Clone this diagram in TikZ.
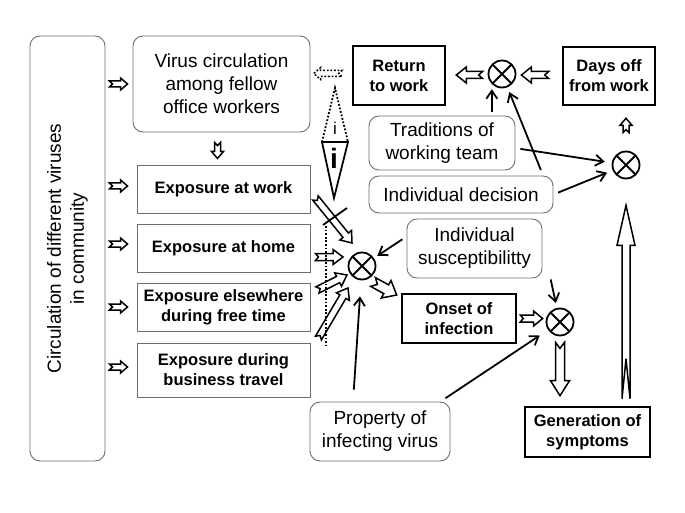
\documentclass[tikz,border=0pt]{standalone}
\usepackage{fontspec}
\setmainfont{Liberation Sans}
\usepackage{tikz}
\usetikzlibrary{calc,positioning,arrows.meta}
\usepackage{xcolor}
\definecolor{mgray}{HTML}{6E6E6E}
\newcommand{\reg}{\fontsize{19}{23}\selectfont}
\newcommand{\bld}{\fontsize{16.5}{20}\selectfont\bfseries}
\tikzstyle{rbox}=[draw=mgray, rounded corners=10pt, line width=0.9pt, inner sep=2pt, align=center, font=\reg]
\tikzstyle{sbox}=[draw=mgray, line width=0.9pt, inner sep=2pt, align=center, font=\bld]
\tikzstyle{tbox}=[draw=black, line width=2.6pt, inner sep=2pt, align=center, font=\bld]
\tikzstyle{ot}=[circle, draw=black, line width=1.8pt, minimum size=27pt, inner sep=0pt,
  path picture={\draw[line width=1.8pt] (path picture bounding box.north west) -- (path picture bounding box.south east)
    (path picture bounding box.north east) -- (path picture bounding box.south west);}]
\tikzstyle{l1}=[line width=1.8pt, >={Straight Barb[length=8pt, width=11pt]}]
\tikzstyle{ba}=[draw=black, line width=1.5pt, fill=white, line join=miter]
\tikzstyle{dots}=[dash pattern=on 1.8pt off 1.8pt]
\tikzset{bsh/.store in=\bsh, bhd/.store in=\bhd, bln/.store in=\bln, bnt/.store in=\bnt,
  bsh=3pt, bhd=6pt, bln=7pt, bnt=3pt}
% block arrow with notched tail: [sizes]{tail}{tip}
\newcommand{\blockarrow}[3][]{%
  \begin{scope}[#1]
    \coordinate (bt) at #2;
    \coordinate (bp) at #3;
    \coordinate (bn) at ($(bp)!\bln!(bt)$);
    \draw[ba] ($(bt)!\bsh!90:(bp)$) -- ($(bt)!\bnt!(bp)$) -- ($(bt)!\bsh!-90:(bp)$)
      -- ($(bn)!\bsh!-90:(bp)$) -- ($(bn)!\bhd!-90:(bp)$) -- (bp)
      -- ($(bn)!\bhd!90:(bp)$) -- ($(bn)!\bsh!90:(bp)$) -- cycle;
  \end{scope}}

\begin{document}
\begin{tikzpicture}[x=1pt,y=-1pt]
    \useasboundingbox (0,0) rectangle (685,513);
    \node[rbox, rotate=90, minimum width=425pt, minimum height=75pt] (comm) at (67.5,248.5) {Circulation of different viruses\\in community};
    \node[rbox, minimum width=177pt, minimum height=96pt] (virus) at (221.5,84) {Virus circulation\\among fellow\\office workers};
    \node[sbox, minimum width=173pt, minimum height=48pt] (work) at (223.5,189) {Exposure at work};
    \node[sbox, minimum width=173pt, minimum height=48pt] (home) at (223.5,248) {Exposure at home};
    \node[sbox, minimum width=173pt, minimum height=48pt] (free) at (223.5,307) {Exposure elsewhere\\during free time};
    \node[sbox, minimum width=173pt, minimum height=54pt] (travel) at (223.5,370) {Exposure during\\business travel};
    \node[tbox, minimum width=92pt, minimum height=59pt] (back) at (399,75.5) {Return\\to work};
    \node[tbox, minimum width=92pt, minimum height=58pt] (dayoff) at (609,76) {Days off\\from work};
    \node[rbox, minimum width=146pt, minimum height=54pt] (trad) at (442,143) {Traditions of\\working team};
    \node[rbox, minimum width=184pt, minimum height=37pt] (decide) at (461,194.5) {Individual decision};
    \node[rbox, minimum width=135pt, minimum height=59pt] (suscep) at (474.5,248.5) {Individual\\susceptibilitty};
    \node[tbox, minimum width=114pt, minimum height=49pt] (onset) at (459,318.5) {Onset of\\infection};
    \node[rbox, minimum width=140pt, minimum height=59pt] (prop) at (380,431.5) {Property of\\infecting virus};
    \node[tbox, minimum width=125pt, minimum height=50pt] (symp) at (587.5,432) {Generation of\\symptoms};
    \node[ot] (ox) at (362,266) {};
    \node[ot] (oi) at (560,322) {};
    \node[ot] (ob) at (502,74) {};
    \node[ot] (od) at (626,165) {};

    \blockarrow{($(virus.west)+(-23,0)$)}{($(virus.west)+(-5,0)$)}
    \blockarrow{($(work.west)+(-27,-3)$)}{($(work.west)+(-9,-3)$)}
    \blockarrow{($(home.west)+(-27,-4)$)}{($(home.west)+(-9,-4)$)}
    \blockarrow{($(free.west)+(-27,0)$)}{($(free.west)+(-9,0)$)}
    \blockarrow{($(travel.west)+(-27,-3)$)}{($(travel.west)+(-9,-3)$)}
    \blockarrow{($(virus.south)+(-4,10)$)}{($(virus.south)+(-4,26)$)}
    \blockarrow[bsh=3.5pt, bhd=7.5pt, bln=10pt]{($(work.east)+(5,9)$)}{($(ox)+(-10,-23)$)}
    \blockarrow[bsh=3.5pt, bhd=7.5pt, bln=10pt]{($(home.east)+(5,9)$)}{($(ox)+(-19,-9)$)}
    \blockarrow[bsh=3.5pt, bhd=7.5pt, bln=10pt]{($(free.east)+(7,-17)$)}{($(ox)+(-15,9)$)}
    \blockarrow[bsh=3.5pt, bhd=7.5pt, bln=10pt]{($(travel.east)+(8,-32)$)}{($(ox)+(-14,22)$)}
    \blockarrow[bsh=5pt, bhd=10pt, bln=12pt, bnt=5pt]{($(ox)+(11,16)$)}{($(onset.west)+(-4,-23.5)$)}
    \blockarrow[bsh=3.5pt, bhd=7.5pt, bln=9pt]{($(onset.east)+(3,0)$)}{($(oi.west |- onset.east)+(-3,0)$)}
    \blockarrow[bsh=4.5pt, bhd=9.5pt, bln=15pt, bnt=6pt]{($(oi.south)+(0,6)$)}{($(oi.south |- symp.north)+(0,-10)$)}
    \blockarrow[bsh=4pt, bhd=9pt, bln=40pt, bnt=40pt]{($(od |- symp.north)+(0,-7)$)}{($(od.south)+(0,26)$)}
    \blockarrow{($(od.north)+(0,-18)$)}{($(od.north |- dayoff.south)+(0,12)$)}
    \blockarrow[bsh=3.5pt, bhd=8pt, bln=10pt, bnt=4pt]{($(dayoff.west)+(-13,-1)$)}{($(ob.east)+(5,1)$)}
    \blockarrow[bsh=3.5pt, bhd=8pt, bln=10pt, bnt=4pt]{($(ob.west)+(-5,1)$)}{($(back.east)+(10,-0.5)$)}
    \blockarrow[dots]{($(back.west)+(-10,-2)$)}{($(back.west)+(-38,-2)$)}

    \draw[l1, ->, shorten <=5pt, shorten >=4pt] (suscep.170) -- (ox);
    \draw[l1, ->, shorten <=12pt, shorten >=16pt] (prop.132) -- (ox);
    \draw[l1, ->, shorten <=1pt, shorten >=5pt] ([xshift=8pt]suscep.south east) -- (oi);
    \draw[l1, ->, shorten <=6pt, shorten >=10pt] ([xshift=-10pt]prop.north east) -- (oi);
    \draw[l1, ->, shorten <=4pt, shorten >=5pt] (trad.north -| ob.south west) -- (ob.south west);
    \draw[l1, ->, shorten <=6pt, shorten >=5pt] (decide.13) -- (ob);
    \draw[l1, ->, shorten <=5pt, shorten >=7pt] (trad.-4) -- (od);
    \draw[l1, ->, shorten <=5pt, shorten >=6pt] (decide.east) -- (od);

    \draw[l1, dots] (322,142) -- (335,88) -- (348,142);
    \draw[l1, line join=miter] (322,142) -- (348,142) -- (334,198) -- cycle;
    \node[font=\fontsize{17}{17}\selectfont, inner sep=0pt] (ia) at (335,128) {i};
    \node[font=\fontsize{28}{28}\selectfont\bfseries, inner sep=0pt] (ib) at (334,158) {i};
    \draw[l1, dots] (326,226) -- (326,345);
    \draw[l1] (347,208) -- (323,225);
\end{tikzpicture}
\end{document}
